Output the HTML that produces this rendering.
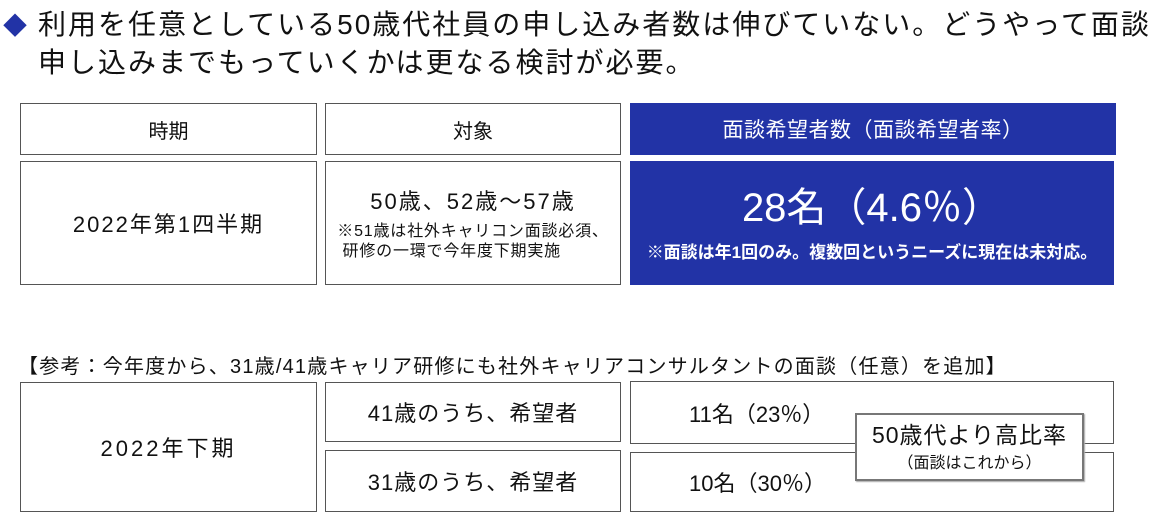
<!DOCTYPE html>
<html><head><meta charset="utf-8"><style>
body{margin:0;width:1161px;height:522px;background:#fff;position:relative;overflow:hidden;font-family:"Liberation Sans","Noto Sans CJK JP",sans-serif;color:#111}
.b{position:absolute;box-sizing:border-box;border:1.5px solid #555;display:flex;flex-direction:column;align-items:center;justify-content:center;text-align:center;white-space:nowrap}
.blue{background:#2233a6;color:#fff;border:none}
.t{position:absolute;font-size:28px;line-height:38px;left:38px;top:6px;white-space:nowrap;letter-spacing:2px}
</style></head><body>
<div style="position:absolute;left:3px;top:6px;color:#2233a6;font-size:24px">◆</div>
<div class="t">利用を任意としている50歳代社員の申し込み者数は伸びていない。どうやって面談<br>申し込みまでもっていくかは更なる検討が必要。</div>

<div class="b" style="left:20px;top:103px;width:297px;height:52px;font-size:20px">時期</div>
<div class="b" style="left:325px;top:103px;width:296px;height:52px;font-size:20px">対象</div>
<div class="b blue" style="left:630px;top:103px;width:486px;height:52px;font-size:21px;letter-spacing:0.5px">面談希望者数（面談希望者率）</div>

<div class="b" style="left:20px;top:161px;width:297px;height:124px;font-size:22px;letter-spacing:2px">2022年第1四半期</div>
<div class="b" style="left:325px;top:161px;width:296px;height:124px"><div style="font-size:22px;letter-spacing:2px;margin-bottom:6px">50歳、52歳～57歳</div><div style="font-size:16px;letter-spacing:0.8px;line-height:20px;text-align:left">※51歳は社外キャリコン面談必須、<br>&nbsp;研修の一環で今年度下期実施</div></div>
<div class="b blue" style="left:630px;top:161px;width:484px;height:124px"><div style="font-size:40px;line-height:48px">28名（4.6％）</div><div style="font-size:17px;font-weight:bold;margin-top:6px">※面談は年1回のみ。複数回というニーズに現在は未対応。</div></div>

<div style="position:absolute;left:18px;top:350px;font-size:20px;letter-spacing:1.2px;white-space:nowrap">【参考：今年度から、31歳/41歳キャリア研修にも社外キャリアコンサルタントの面談（任意）を追加】</div>

<div class="b" style="left:20px;top:382px;width:297px;height:130px;font-size:22px;letter-spacing:3px">2022年下期</div>
<div class="b" style="left:325px;top:382px;width:296px;height:60px;font-size:22px;letter-spacing:1px">41歳のうち、希望者</div>
<div class="b" style="left:325px;top:450px;width:296px;height:62px;font-size:22px;letter-spacing:1px">31歳のうち、希望者</div>
<div class="b" style="left:630px;top:381px;width:484px;height:63px;font-size:22px;align-items:flex-start;padding-left:58px">11名（23％）</div>
<div class="b" style="left:630px;top:452px;width:484px;height:60px;font-size:22px;align-items:flex-start;padding-left:58px">10名（30％）</div>
<div class="b" style="left:855px;top:413px;width:229px;height:68px;background:#fff;border:2px solid #777;box-shadow:1px 1px 1px #aaa"><div style="font-size:23px;letter-spacing:1px;line-height:28px">50歳代より高比率</div><div style="font-size:16px">（面談はこれから）</div></div>
</body></html>
